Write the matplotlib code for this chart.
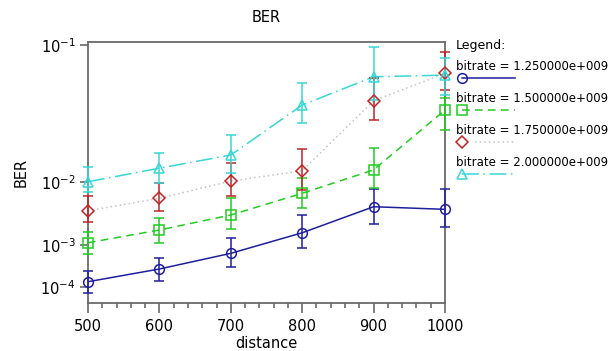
import numpy as np
import matplotlib
matplotlib.use('Agg')
import matplotlib.pyplot as plt
from matplotlib.ticker import FixedLocator, MultipleLocator, NullLocator
from matplotlib.lines import Line2D

plt.rcParams['font.family'] = 'DejaVu Sans'
plt.rcParams['mathtext.fontset'] = 'dejavusans'

distance = [500, 600, 700, 800, 900, 1000]

# bitrate = 1.25e9
ber_125 = [1.42e-4, 3.0e-4, 6.84e-4, 1.74e-3, 4.65e-3, 4.25e-3]
lo_125 = [7.0e-5, 1.48e-4, 3.41e-4, 8.7e-4, 2.48e-3, 2.24e-3]
hi_125 = [2.69e-4, 5.5e-4, 1.37e-3, 3.48e-3, 8.1e-3, 8.06e-3]

# bitrate = 1.5e9
ber_150 = [1.13e-3, 1.95e-3, 3.48e-3, 7.15e-3, 1.37e-2, 4.54e-2]
lo_150 = [6.5e-4, 1.10e-3, 2.03e-3, 4.4e-3, 8.3e-3, 3.24e-2]
hi_150 = [1.82e-3, 3.15e-3, 6.12e-3, 1.11e-2, 2.26e-2, 5.41e-2]

# bitrate = 1.75e9
ber_175 = [4.05e-3, 6.12e-3, 1.02e-2, 1.34e-2, 5.22e-2, 7.45e-2]
lo_175 = [2.71e-3, 4.05e-3, 6.58e-3, 7.9e-3, 3.86e-2, 6.06e-2]
hi_175 = [6.58e-3, 9.6e-3, 1.61e-2, 2.21e-2, 7.05e-2, 9.38e-2]

# bitrate = 2e9
ber_200 = [1.0e-2, 1.43e-2, 1.95e-2, 4.9e-2, 7.16e-2, 7.3e-2]
lo_200 = [7.5e-3, 9.75e-3, 1.26e-2, 3.69e-2, 5.27e-2, 5.66e-2]
hi_200 = [1.46e-2, 2.03e-2, 2.95e-2, 6.6e-2, 9.8e-2, 8.8e-2]

labels = ['bitrate = 1.250000e+009', 'bitrate = 1.500000e+009',
          'bitrate = 1.750000e+009', 'bitrate = 2.000000e+009']
yticks_val = [1e-4, 1e-3, 1e-2, 1e-1]
yticks_lab = ['$10^{-4}$', '$10^{-3}$', '$10^{-2}$', '$10^{-1}$']


# the BER axis is squeezed toward small values: pos = -ln(2*(-log10 p) - 1)
def fwd(p):
	p = np.clip(np.asarray(p, dtype=float), 1e-12, 0.3)
	return -np.log(2.0 * (-np.log10(p)) - 1.0)

def inv(y):
	y = np.asarray(y, dtype=float)
	return 10.0 ** (-(np.exp(-y) + 1.0) / 2.0)


blue = '#1e1e9e'
green = '#22cc22'
red = '#c02424'
cyan = '#38d6d6'
grey = '#c4c4c4'

series = [
	(ber_125, lo_125, hi_125, blue, blue, '-', 'o', None),
	(ber_150, lo_150, hi_150, green, green, '--', 's', (5, 3.5)),
	(ber_175, lo_175, hi_175, red, grey, ':', 'D', (1, 2)),
	(ber_200, lo_200, hi_200, cyan, cyan, '-', '^', (11, 3, 1, 3)),
]

fig = plt.figure(figsize=(6.08, 3.51), dpi=100)
ax = fig.add_axes([0.1447, 0.1359, 0.5872, 0.7453])
ax.set_yscale('function', functions=(fwd, inv))

for ber, lo, hi, col, lcol, ls, mk, dash in series:
	ber = np.array(ber)
	err = [ber - np.array(lo), np.array(hi) - ber]
	ln, = ax.plot(distance, ber, color=lcol, ls=ls, lw=1.1, zorder=2)
	if dash is not None:
		ln.set_dashes(dash)
	ax.errorbar(distance, ber, yerr=err, fmt='none', ecolor=col, elinewidth=1.1,
				capsize=3.5, capthick=1.1, zorder=3, clip_on=False)
	ax.plot(distance, ber, ls='none', marker=mk, mfc='none', mec=col, mew=1.1,
			ms=7 if mk != 'D' else 6.5, zorder=4, clip_on=False)

ax.set_xlim(500, 1000)
ax.set_ylim(3.3e-5, 0.1031)
ax.yaxis.set_major_locator(FixedLocator(yticks_val))
ax.yaxis.set_minor_locator(NullLocator())
ax.set_yticklabels(yticks_lab)
ax.xaxis.set_major_locator(MultipleLocator(100))
ax.xaxis.set_minor_locator(MultipleLocator(20))

for sp in ax.spines.values():
	sp.set_color('#6a6a6a')
	sp.set_linewidth(1.3)
ax.tick_params(axis='both', which='major', direction='out', color='#6a6a6a',
			   width=1.2, labelsize=10.5)
ax.tick_params(axis='y', which='major', length=6, pad=3)
ax.tick_params(axis='x', which='major', length=7, pad=4)
ax.tick_params(axis='x', which='minor', direction='out', length=3.5, width=1.2,
			   color='#6a6a6a')

ax.set_title('BER', fontsize=10.5, pad=14)
ax.set_xlabel('distance', fontsize=10.5, labelpad=2)
ax.set_ylabel('BER', fontsize=10.5, labelpad=8)

# legend drawn to the right: text above each sample line
ax.text(1.030, 0.9836, 'Legend:', transform=ax.transAxes, fontsize=9,
		va='center', ha='left')
for i, (ber, lo, hi, col, lcol, ls, mk, dash) in enumerate(series):
	yt = 0.9044 - i * 0.1223
	ys = 0.860 - i * 0.1223
	ax.text(1.030, yt, labels[i], transform=ax.transAxes, fontsize=8.5,
			va='center', ha='left')
	x0 = 1.048 if mk != 'D' else 1.085
	sample = Line2D([x0, 1.196], [ys, ys], transform=ax.transAxes, color=lcol,
					ls=ls, lw=1.1, clip_on=False)
	if dash is not None:
		sample.set_dashes(dash)
	ax.add_line(sample)
	ax.add_line(Line2D([1.048], [ys], transform=ax.transAxes, ls='none',
					   marker=mk, mfc='none', mec=col, mew=1.1,
					   ms=7 if mk != 'D' else 6.5, clip_on=False))

fig.savefig('out.png', dpi=100)
